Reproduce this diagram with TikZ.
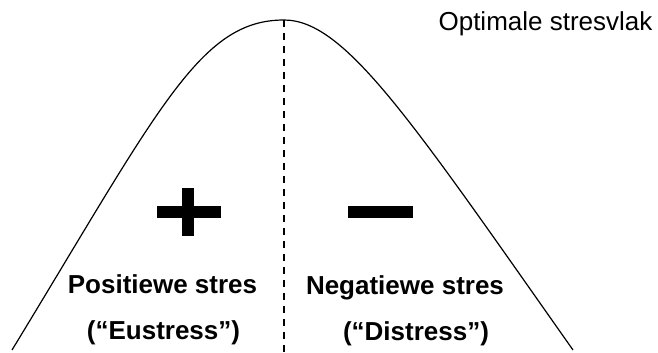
\documentclass[tikz,border=0pt]{standalone}
\usepackage{fontspec}
\setmainfont{Liberation Sans}
\usetikzlibrary{positioning}

\begin{document}
\begin{tikzpicture}[x=1pt, y=-1pt, lbl/.style={font=\fontsize{26}{30}\selectfont\bfseries, anchor=base, inner sep=0pt}, signbar/.style={fill=black, draw=none}, midline/.style={line width=1.3pt, dash pattern=on 7pt off 6pt}]
			\useasboundingbox (0,0) rectangle (658,353);
			\coordinate (lend) at (12,350);
			\coordinate (peak) at (284,20);
			\coordinate (rend) at (573,350);
			\coordinate (base) at (284,353);
			\draw[line width=1.2pt] (lend) .. controls (160,107) and (200,20) .. (peak)
				.. controls (345,20) and (411,120) .. (rend);
			\draw[midline] (peak) -- (base);
			\fill[signbar] (157,206) rectangle (221,218);
			\fill[signbar] (182,188) rectangle (194,236);
			\fill[signbar] (348,206) rectangle (413,218);
			\node[lbl, font=\fontsize{26}{30}\selectfont] (optimum) at (545.5,31) {Optimale stresvlak};
			\node[lbl] (pos) at (162.5,293) {Positiewe stres};
			\node[lbl] (eu) at (163.5,339) {(“Eustress”)};
			\node[lbl] (neg) at (405,294) {Negatiewe stres};
			\node[lbl] (dis) at (416,340) {(“Distress”)};
		\end{tikzpicture}
\end{document}
